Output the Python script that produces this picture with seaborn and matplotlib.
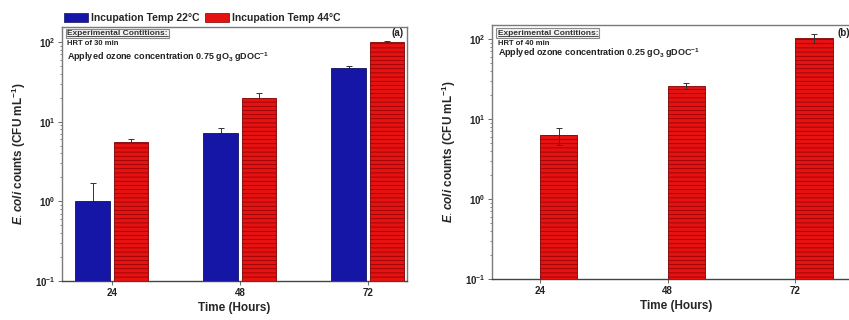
import numpy as np
import pandas as pd
import matplotlib
matplotlib.use("Agg")
import matplotlib.pyplot as plt
import seaborn as sns
from matplotlib.patches import Patch
from matplotlib.ticker import LogLocator, NullFormatter

# ---------------- data ----------------
times = ["24", "48", "72"]
temps = ["Incupation Temp 22°C", "Incupation Temp 44°C"]
a_22 = [1.0, 7.3, 48.0]
a_22_err = [0.7, 1.1, 2.0]
a_44 = [5.6, 20.0, 100.0]
a_44_err = [0.4, 2.8, 2.0]
b_vals = [6.3, 26.0, 103.0]
b_err = [1.5, 2.5, 14.0]

blue = "#1616a6"
red = "#e61212"
red_edge = "#7a0000"

sns.set_theme(style="white")
plt.rcParams["font.family"] = ["Liberation Sans", "DejaVu Sans"]
plt.rcParams["mathtext.fontset"] = "custom"
plt.rcParams["mathtext.rm"] = "Liberation Sans"
plt.rcParams["mathtext.it"] = "Liberation Sans:italic:bold"
plt.rcParams["mathtext.bf"] = "Liberation Sans:bold"
plt.rcParams["mathtext.default"] = "regular"
plt.rcParams["hatch.linewidth"] = 0.45

W, H = 849, 320
fig = plt.figure(figsize=(W / 100, H / 100), dpi=100)

def px_axes(l, t, r, b):
    return fig.add_axes([l / W, 1 - b / H, (r - l) / W, (b - t) / H])

axA = px_axes(62, 27, 407, 281)
axB = px_axes(492, 25, 860, 279)

# ---------------- panel a ----------------
dfA = pd.DataFrame({
    "Time": times * 2,
    "Temp": [temps[0]] * 3 + [temps[1]] * 3,
    "Count": a_22 + a_44,
})
sns.barplot(data=dfA, x="Time", y="Count", hue="Temp", order=times,
            hue_order=temps, palette=[blue, red], width=0.6, gap=0.1,
            legend=False, errorbar=None, ax=axA, saturation=1,
            linewidth=0.6, zorder=3)
for cont, errs in zip(axA.containers, [a_22_err, a_44_err]):
    for p in cont.patches:
        if p.get_facecolor()[0] > 0.5:
            p.set_hatch("----")
            p.set_edgecolor(red_edge)
        else:
            p.set_edgecolor("#101060")
    xs = [p.get_x() + p.get_width() / 2 for p in cont.patches]
    ys = [p.get_height() for p in cont.patches]
    axA.errorbar(xs, ys, yerr=errs, fmt="none", ecolor="#333333",
                 elinewidth=0.7, capsize=2, capthick=0.7, zorder=2)
axA.set_xlim(-0.39, 2.305)

# ---------------- panel b ----------------
dfB = pd.DataFrame({"Time": times, "Count": b_vals})
sns.barplot(data=dfB, x="Time", y="Count", order=times, color=red,
            width=0.29, errorbar=None, ax=axB, saturation=1,
            edgecolor=red_edge, linewidth=0.6, hatch="----", zorder=3)
xsB = [p.get_x() + p.get_width() / 2 for p in axB.patches]
ysB = [p.get_height() for p in axB.patches]
axB.errorbar(xsB, ysB, yerr=b_err, fmt="none", ecolor="#333333",
             elinewidth=0.7, capsize=2, capthick=0.7, zorder=4)
axB.set_xticks([p.get_x() for p in axB.patches])
axB.set_xticklabels(times)
axB.set_xlim(-0.521, 2.36)

# ---------------- common styling ----------------
ylab = r"$\it{E. coli}$ counts (CFU mL$^{-1}$)"
for ax, ymax in [(axA, 155), (axB, 150)]:
    ax.set_yscale("log")
    ax.set_ylim(0.1, ymax)
    ax.yaxis.set_major_locator(LogLocator(base=10, numticks=10))
    ax.yaxis.set_minor_locator(LogLocator(base=10, subs=np.arange(2, 10), numticks=20))
    ax.yaxis.set_minor_formatter(NullFormatter())
    ax.tick_params(axis="y", which="major", direction="out", length=3,
                   width=0.6, labelsize=7, pad=1.5, left=True, color="#555555")
    ax.tick_params(axis="y", which="minor", direction="out", length=1.8,
                   width=0.5, left=True, color="#555555")
    ax.tick_params(axis="x", which="major", direction="out", length=3,
                   width=0.6, labelsize=7, pad=2, bottom=True, color="#555555")
    for sp in ax.spines.values():
        sp.set_color("#7a7a7a")
        sp.set_linewidth(1.0)
    ax.spines["bottom"].set_color("#444444")
    ax.set_xlabel("Time (Hours)", fontsize=8.5, fontweight="bold", labelpad=3)
    ax.set_ylabel(ylab, fontsize=8.5, fontweight="bold", labelpad=5)
    for lab in ax.get_xticklabels() + ax.get_yticklabels():
        lab.set_fontweight("bold")
        lab.set_color("#222222")

# annotation texts
def cond_text(ax, y0, y1, y2, hrt, conc):
    t = ax.text(0.015, y0, "Experimental Contitions:", transform=ax.transAxes,
                fontsize=6, fontweight="bold", va="center", ha="left", color="#333333",
                bbox=dict(boxstyle="square,pad=0.15", fc="#f2f2f2", ec="#8a8a8a", lw=0.8))
    ax.text(0.015, y1, hrt, transform=ax.transAxes, fontsize=5.5,
            fontweight="bold", va="center", ha="left", color="#222222")
    ax.text(0.015, y2, "Applyed ozone concentration " + conc + r" gO$_3$ gDOC$^{-1}$",
            transform=ax.transAxes, fontsize=6.5, va="center", ha="left",
            color="#222222", fontweight="bold")
    return t

tA = cond_text(axA, 0.975, 0.935, 0.882, "HRT of 30 min", "0.75")
tB = cond_text(axB, 0.968, 0.929, 0.89, "HRT of 40 min", "0.25")
axA.text(0.974, 0.976, "(a)", transform=axA.transAxes, fontsize=7,
         ha="center", va="center", fontweight="bold", color="#222222")
axB.text(0.94, 0.968, "(b)", transform=axB.transAxes, fontsize=7,
         ha="left", va="center", fontweight="bold", color="#222222")

# underline the heading
fig.canvas.draw()
rend = fig.canvas.get_renderer()
for t in (tA, tB):
    bb = t.get_window_extent(renderer=rend)
    inv = fig.transFigure.inverted()
    (x0, y0), (x1, _) = inv.transform([(bb.x0, bb.y0 + 0.5), (bb.x1, bb.y0)])
    fig.add_artist(plt.Line2D([x0, x1], [y0, y0], color="#333333", lw=0.6,
                              transform=fig.transFigure))

# legend
handles = [Patch(facecolor=blue, edgecolor="#101060", lw=0.5),
           Patch(facecolor=red, edgecolor=red_edge, lw=0.5)]
fig.legend(handles, temps, loc="lower left",
           bbox_to_anchor=(64 / W, 1 - 23 / H), ncol=2, frameon=False,
           handlelength=2.3, handleheight=0.9, columnspacing=0.5,
           handletextpad=0.3, borderaxespad=0, borderpad=0,
           prop={"size": 7.5, "weight": "bold"})

fig.savefig("out.png", dpi=100)
